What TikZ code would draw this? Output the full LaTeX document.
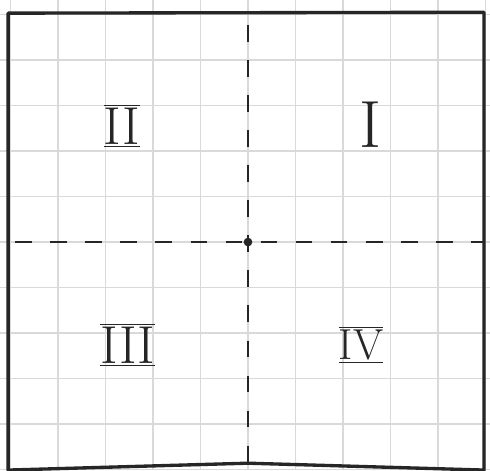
\documentclass[tikz,border=0pt]{standalone}
\usepackage{fix-cm}
\usetikzlibrary{positioning}
\tikzset{
	gridline/.style={gray!30, line width=0.9pt},
	frame/.style={draw=black!85, line width=2pt, line join=round},
	axis/.style={draw=black!85, line width=1.6pt, dash pattern=on 10pt off 11pt},
	quad/.style={inner sep=0pt, text=black!85, font=\fontsize{32}{34}\selectfont}
}

\begin{document}
\begin{tikzpicture}[x=1cm, y=0.958cm]
	\useasboundingbox (-5.221,-5.011) rectangle (5.095,5.319);
	
	% ==========================================
	% GRID PAPER
	% ==========================================
	\draw[gridline, step=1] (-5.221,-5.011) grid (5.095,5.319);
	
	% --- Frame ---
	\draw[frame] (-5.05,5.03) -- (4.97,5.05) -- (4.97,-5.011) -- (0,-4.86) -- (-5.05,-5.011) -- cycle;
	
	% ==========================================
	% AXES
	% ==========================================
	\coordinate (origin) at (0,0);
	\coordinate (west) at (-4.9,0);
	\coordinate (east) at (4.97,0);
	\coordinate (north) at (0,4.77);
	\coordinate (south) at (0,-4.86);
	\draw[axis] (west) -- (east);
	\draw[axis] (north) -- (south);
	\fill[black!85] (origin) circle (2.6pt); % the crossing point
	
	% ==========================================
	% QUADRANTS
	% ==========================================
	\node[quad, font=\fontsize{40}{42}\selectfont] (quadI) at (2.57,2.57) {I};
	\node[quad] (quadII) at (-2.65,2.55) {$\underline{\overline{\hbox{II}}}$};
	\node[quad] (quadIII) at (-2.53,-2.26) {$\underline{\overline{\hbox{III}}}$};
	\node[quad, font=\fontsize{26}{28}\selectfont] (quadIV) at (2.38,-2.26) {$\underline{\overline{\hbox{IV}}}$};
	
\end{tikzpicture}
\end{document}
